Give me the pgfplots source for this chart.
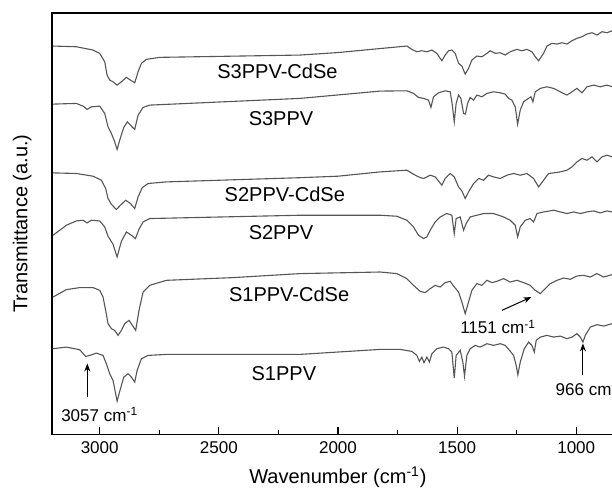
\documentclass[border=0pt]{standalone}
\usepackage{fontspec}
\setmainfont{Liberation Sans}
\usepackage{pgfplots}
\pgfplotsset{compat=1.18}
\usetikzlibrary{arrows.meta}
\definecolor{trace}{RGB}{85,85,85}
\begin{document}
\begin{tikzpicture}
\begin{axis}[
  scale only axis, width=285.6pt, height=210.5pt,
  x dir=reverse, xmin=800, xmax=3200, ymin=-434, ymax=-13,
  xtick={1000,1500,2000,2500,3000}, minor xtick={1250,1750,2250,2750},
  xtick pos=left, ytick=\empty, tick align=inside,
  major tick length=3.5pt, minor tick length=2pt,
  axis line style={line width=0.7pt},
  every tick/.style={black, line width=0.6pt},
  /pgf/number format/assume math mode=true,
  /pgf/number format/1000 sep={},
  tick label style={font=\fontsize{8.5}{10}\selectfont},
  xlabel={Wavenumber (cm\textsuperscript{-1})},
  ylabel={Transmittance (a.u.)},
  label style={font=\fontsize{10}{12}\selectfont},
  xlabel style={at={(axis description cs:0.5,-0.102)}, anchor=center},
  ylabel style={at={(axis description cs:-0.052,0.5)}, anchor=center},
  clip=false,
]
% S3PPV-CdSe
\addplot[trace, line width=0.55pt] coordinates {
(3196,-46) (3098,-46.7) (3028,-50) (3000,-53.3) (2979,-61.7) (2969,-75) (2958,-80) (2944,-81.7) (2927,-85) (2909,-81.7) (2888,-77.3) (2871,-80) (2853,-82.7) (2839,-71.7) (2825,-63.3) (2804,-59.3) (2748,-57.3) (2160,-55) (2000,-52.5) (1823,-48.5) (1711,-46)
(1690,-49.3) (1669,-51.7) (1648,-50.7) (1627,-51.7) (1606,-50) (1585,-53.3) (1564,-60.7) (1550,-55) (1536,-50.7) (1522,-50) (1508,-53.3) (1494,-63.3) (1480,-66) (1466,-74) (1452,-68.3) (1438,-60) (1417,-56) (1396,-56.7) (1375,-53.3) (1361,-50.7) (1340,-53.3) (1319,-52.7) (1298,-55) (1277,-51.7) (1249,-49.3) (1228,-50.7) (1207,-49.3) (1186,-51.7) (1172,-56.7) (1158,-60.7) (1137,-53.3) (1123,-46) (1102,-43.3) (1081,-44) (1060,-42.7) (1039,-44) (1018,-40.7) (997,-38.3) (976,-36.7) (955,-34) (934,-32.7) (913,-35) (892,-31.7) (871,-32.7) (849,-30.7)
};
% S3PPV
\addplot[trace, line width=0.55pt] coordinates {
(3196,-104) (3098,-103.3) (3070,-106) (3053,-109.3) (3035,-106.7) (3000,-106) (2979,-113.3) (2965,-126.7) (2951,-133.3) (2937,-141.7) (2927,-149.3) (2916,-140) (2899,-127.3) (2884,-121.7) (2867,-126) (2853,-129.3) (2839,-115) (2818,-107.3) (2790,-105) (2160,-98.3) (1823,-91)
(1711,-90.7) (1683,-93.3) (1662,-97.3) (1641,-98.3) (1620,-100) (1610,-107.3) (1599,-96.7) (1578,-92.7) (1550,-90.7) (1529,-91.7) (1521,-103.3) (1512,-121.7) (1504,-103.3) (1494,-95) (1484,-98.3) (1473,-113.3) (1465,-114) (1456,-103.3) (1445,-97.3) (1431,-100) (1417,-95) (1396,-96.7) (1375,-93.3) (1347,-91.7) (1319,-92.7) (1298,-94) (1284,-98.3) (1270,-100) (1256,-106.7) (1246,-124) (1235,-110) (1221,-101.7) (1207,-99.3) (1190,-96.7) (1182,-101.7) (1172,-91.7) (1151,-88.3) (1123,-86.7) (1095,-88.3) (1067,-91.7) (1039,-95) (1018,-91.7) (997,-88.3) (976,-92.7) (955,-86.7) (927,-85) (899,-86.7) (871,-85) (849,-86.7)
};
% S2PPV-CdSe
\addplot[trace, line width=0.55pt] coordinates {
(3196,-172.7) (3098,-173.3) (3028,-176) (2993,-180) (2975,-188.3) (2965,-198.3) (2951,-204) (2930,-209.3) (2913,-205) (2891,-200) (2871,-203.3) (2853,-208.3) (2839,-196.7) (2821,-187.3) (2797,-183.3) (2720,-181.7) (2160,-177.5) (2000,-176) (1823,-171.7) (1711,-170)
(1683,-174) (1662,-176.7) (1641,-178.3) (1613,-175) (1592,-176.7) (1564,-185) (1550,-178.3) (1529,-173.3) (1512,-176.7) (1494,-186.7) (1480,-190.7) (1466,-198.3) (1452,-191.7) (1431,-183.3) (1410,-178.3) (1389,-180) (1368,-175) (1347,-176.7) (1319,-178.3) (1291,-175) (1263,-173.3) (1235,-175) (1207,-173.3) (1179,-178.3) (1158,-186.7) (1137,-180) (1116,-173.3) (1095,-172.7) (1067,-171.7) (1039,-170) (1018,-166.7) (997,-161.7) (976,-158.3) (955,-160) (934,-156.7) (913,-161.7) (892,-156.7) (871,-155) (849,-156.7)
};
% S2PPV
\addplot[trace, line width=0.55pt] coordinates {
(3196,-235) (3140,-225) (3098,-220.7) (3070,-220) (3053,-222.7) (3035,-220) (3000,-220.7) (2979,-226.7) (2965,-236) (2944,-244) (2927,-256.7) (2909,-241) (2888,-231.7) (2867,-235) (2850,-238.3) (2835,-229) (2818,-221.7) (2790,-218.3) (2160,-215) (1823,-215) (1753,-216)
(1711,-220) (1683,-226.7) (1662,-235) (1641,-238.3) (1627,-236.7) (1613,-230) (1592,-221.7) (1571,-216.7) (1543,-213.3) (1522,-215) (1512,-233.3) (1504,-218.3) (1487,-216.7) (1473,-230) (1462,-223.3) (1445,-216.7) (1417,-215) (1389,-213.3) (1347,-213.3) (1305,-216.7) (1277,-220) (1256,-225) (1246,-236.7) (1235,-226.7) (1214,-220) (1193,-218.3) (1179,-221.7) (1165,-213.3) (1137,-211.7) (1095,-210) (1067,-211.7) (1039,-213.3) (1011,-211.7) (983,-213.3) (955,-211.7) (927,-210.7) (899,-212.7) (871,-210.7) (849,-211.7)
};
% S1PPV-CdSe
\addplot[trace, line width=0.55pt] coordinates {
(3196,-296.7) (3140,-289.3) (3084,-287.3) (3028,-287.3) (3000,-290) (2986,-296.7) (2975,-310) (2965,-323.3) (2951,-328.3) (2937,-330) (2923,-335) (2909,-330) (2895,-323.3) (2877,-320) (2863,-325) (2849,-330) (2835,-310) (2818,-291.7) (2790,-285) (2720,-280) (2440,-277.3) (2160,-273.3) (1823,-271.7) (1753,-273.3)
(1711,-278.3) (1683,-285) (1655,-291) (1634,-292.3) (1613,-288.3) (1592,-285) (1571,-286.7) (1550,-282.3) (1529,-281) (1515,-285.7) (1494,-291.7) (1480,-301.7) (1466,-313.3) (1452,-301.7) (1438,-290) (1417,-283.3) (1396,-285) (1375,-280) (1354,-282.3) (1333,-281) (1305,-278.3) (1277,-281.7) (1249,-280) (1221,-282.3) (1193,-285) (1172,-290) (1151,-293.3) (1130,-288.3) (1109,-283.3) (1081,-280) (1053,-277.7) (1025,-279) (997,-275.7) (969,-275) (941,-276.7) (913,-273.3) (885,-276.7) (849,-274.3)
};
% S1PPV
\addplot[trace, line width=0.55pt] coordinates {
(3196,-348.3) (3140,-346.7) (3084,-349.3) (3059,-356) (3042,-355) (3014,-352.7) (2986,-355) (2972,-363.3) (2958,-373.3) (2944,-380) (2927,-400.7) (2913,-388.3) (2899,-376.7) (2881,-373.3) (2867,-376.7) (2853,-381.7) (2843,-370) (2825,-358.3) (2797,-355) (2720,-354) (2160,-354) (1823,-349) (1739,-349)
(1690,-351) (1669,-355) (1658,-361) (1648,-356.7) (1639,-362.3) (1627,-356.7) (1616,-361.7) (1606,-353.3) (1585,-348.3) (1557,-346.7) (1536,-348.3) (1522,-351.7) (1512,-377.7) (1504,-355) (1487,-350) (1476,-361.7) (1469,-375.7) (1459,-355) (1445,-348.3) (1424,-345) (1403,-346.7) (1375,-343.3) (1347,-345) (1319,-343.3) (1298,-345) (1280,-350) (1263,-355) (1252,-365) (1245,-374.3) (1235,-361.7) (1218,-348.3) (1200,-341.7) (1186,-345) (1176,-351.7) (1168,-340) (1151,-336.7) (1123,-335) (1095,-336.7) (1067,-335.7) (1039,-338.3) (1018,-336.7) (997,-333.3) (983,-336.7) (972,-341.7) (962,-335) (941,-326.7) (913,-324.3) (885,-325.7) (849,-323.3)
};
\begin{scope}[font=\fontsize{10}{12}\selectfont]
\node at (axis cs:2254,-71) {S3PPV-CdSe};
\node at (axis cs:2239,-118) {S3PPV};
\node at (axis cs:2223,-194) {S2PPV-CdSe};
\node at (axis cs:2239,-232) {S2PPV};
\node at (axis cs:2205,-293.6) {S1PPV-CdSe};
\node at (axis cs:2227,-373.6) {S1PPV};
\end{scope}
\begin{scope}[font=\fontsize{8.5}{10}\selectfont]
\node at (axis cs:3000,-414) {3057 cm\textsuperscript{-1}};
\node at (axis cs:1328,-326.7) {1151 cm\textsuperscript{-1}};
\node[anchor=west, inner sep=0pt] at (axis cs:1088,-388) {966 cm\textsuperscript{-1}};
\end{scope}
\draw[-{Stealth[length=4pt,width=3pt]}, line width=0.5pt] (axis cs:3052,-396.7) -- (axis cs:3052,-363);
\draw[-{Stealth[length=4pt,width=3pt]}, line width=0.5pt] (axis cs:972,-375) -- (axis cs:972,-343);
\draw[-{Stealth[length=4pt,width=3pt]}, line width=0.5pt] (axis cs:1312,-310) -- (axis cs:1188,-296.7);
\coordinate (BL) at (axis description cs:0,0);
\coordinate (TR) at (axis cs:850,-13);
\end{axis}
\pgfresetboundingbox
\path[use as bounding box] ([xshift=-26pt,yshift=-26.5pt]BL) rectangle ([yshift=6.5pt]TR);
\end{tikzpicture}
\end{document}
